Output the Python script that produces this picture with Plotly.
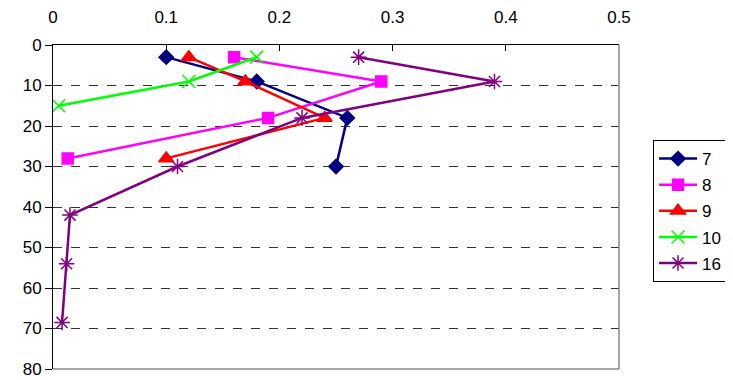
import plotly.graph_objects as go

# depth profiles, one series per sample
names = ["7", "8", "9", "10", "16"]
x_7 = [0.10, 0.18, 0.26, 0.25]
y_7 = [3, 9, 18, 30]
x_8 = [0.16, 0.29, 0.19, 0.013]
y_8 = [3, 9, 18, 28]
x_9 = [0.12, 0.17, 0.24, 0.10]
y_9 = [3, 9, 18, 28]
x_10 = [0.18, 0.12, 0.005]
y_10 = [3, 9, 15]
x_16 = [0.27, 0.39, 0.22, 0.11, 0.015, 0.012, 0.008]
y_16 = [3, 9, 18, 30, 42, 54, 68.5]

xs = [x_7, x_8, x_9, x_10, x_16]
ys = [y_7, y_8, y_9, y_10, y_16]
colors = ["#000080", "#ff00ff", "#ff0000", "#00ff00", "#800080"]
symbols = ["diamond", "square", "triangle-up", "x-thin-open", "asterisk-open"]
sizes = [11, 11, 13, 13, 13]

fig = go.Figure()
for n, x, y, c, s, sz in zip(names, xs, ys, colors, symbols, sizes):
    fig.add_trace(go.Scatter(
        x=x, y=y, name=n, mode="lines+markers", legendgroup=n,
        line=dict(color=c, width=2.5),
        marker=dict(symbol=s, size=sz, color=c, line=dict(color=c, width=1.5)),
    ))

# page body has an 8px margin, so the figure is 725x372
fig.update_layout(
    width=725, height=372,
    margin=dict(l=45, r=114, t=37, b=11),
    plot_bgcolor="white", paper_bgcolor="white",
    font=dict(family="Liberation Sans, Arial", size=17, color="black"),
    legend=dict(xref="container", yref="container", x=0.8897, y=0.645,
                xanchor="left", yanchor="top",
                bordercolor="black", borderwidth=1, tracegroupgap=1,
                itemwidth=38, font=dict(size=17)),
    xaxis=dict(side="top", range=[0, 0.5], tickvals=[0, 0.1, 0.2, 0.3, 0.4, 0.5],
               ticktext=["0", "0.1", "0.2", "0.3", "0.4", "0.5"], automargin=False,
               showgrid=False, zeroline=False, showline=True, linecolor="black",
               ticks="inside", ticklen=6, tickcolor="black", ticklabelstandoff=14),
    yaxis=dict(range=[80, 0], tickvals=list(range(0, 90, 10)), automargin=False,
               showgrid=True, gridcolor="#333333", griddash="dash", gridwidth=1,
               zeroline=False, showline=True, linecolor="black",
               ticks="outside", ticklen=7, tickcolor="black"),
)
# right and bottom frame of the plot area
fig.add_shape(type="line", xref="paper", yref="paper", x0=1, x1=1, y0=0, y1=1,
              line=dict(color="#888888", width=1.5))
fig.add_shape(type="line", xref="paper", yref="paper", x0=0, x1=1, y0=0, y1=0,
              line=dict(color="#888888", width=1.5))

fig.write_html("out.html")
